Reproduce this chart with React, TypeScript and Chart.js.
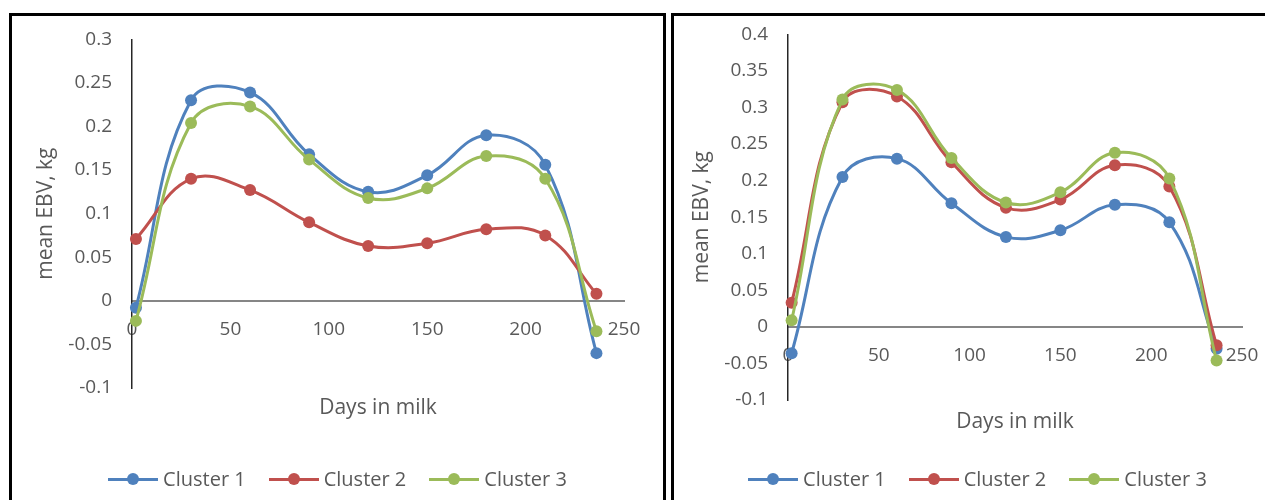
import React, { useEffect, useRef } from 'react';
import { Chart, registerables } from 'chart.js';

Chart.register(...registerables);

// ---- data ----
const days = [2, 30, 60, 90, 120, 150, 180, 210, 236];

const seriesNames = ['Cluster 1', 'Cluster 2', 'Cluster 3'];
const seriesColors = ['#4F81BD', '#C0504D', '#9BBB59'];

const leftCluster1 = [-0.008, 0.23, 0.239, 0.168, 0.125, 0.144, 0.19, 0.156, -0.06];
const leftCluster2 = [0.071, 0.14, 0.127, 0.09, 0.063, 0.066, 0.082, 0.075, 0.008];
const leftCluster3 = [-0.023, 0.204, 0.223, 0.162, 0.118, 0.129, 0.166, 0.14, -0.035];

const rightCluster1 = [-0.036, 0.205, 0.23, 0.169, 0.123, 0.132, 0.167, 0.143, -0.03];
const rightCluster2 = [0.033, 0.307, 0.315, 0.225, 0.163, 0.174, 0.221, 0.192, -0.025];
const rightCluster3 = [0.009, 0.311, 0.324, 0.231, 0.17, 0.184, 0.238, 0.203, -0.046];

const xMin = 0;
const xMax = 250;
const xStep = 50;
const yStep = 0.05;
const leftYRange = [-0.1, 0.3];
const rightYRange = [-0.1, 0.4];

const xTitle = 'Days in milk';
const yTitle = 'mean EBV, kg';

const FONT = "'Open Sans', 'DejaVu Sans', sans-serif";
const TEXT = '#595959';

type PanelProps = {
  series: number[][];
  yRange: number[];
  padding: { left: number; right: number; top: number; bottom: number };
  xTitleHeight: number;
  width: number;
  height: number;
};

function ChartPanel({ series, yRange, padding, xTitleHeight, width, height }: PanelProps) {
  const ref = useRef<HTMLCanvasElement | null>(null);

  useEffect(() => {
    if (!ref.current) return;
    const chart = new Chart(ref.current, {
      type: 'line',
      data: {
        datasets: series.map((vals, i) => ({
          label: seriesNames[i],
          data: days.map((d, j) => ({ x: d, y: vals[j] })),
          borderColor: seriesColors[i],
          backgroundColor: seriesColors[i],
          pointBackgroundColor: seriesColors[i],
          pointBorderColor: seriesColors[i],
          pointRadius: 6,
          pointBorderWidth: 0,
          borderWidth: 3,
          tension: 0.4,
          fill: false,
          clip: false,
          order: series.length - 1 - i,
          borderCapStyle: 'round',
          borderJoinStyle: 'round',
        })),
      },
      options: {
        responsive: false,
        animation: false,
        events: [],
        layout: { padding },
        plugins: {
          legend: { display: false },
          tooltip: { enabled: false },
          title: { display: false },
        },
        scales: {
          x: {
            type: 'linear',
            position: { y: 0 },
            min: xMin,
            max: xMax,
            ticks: {
              stepSize: xStep,
              padding: 17,
              color: TEXT,
              font: { size: 19, family: FONT },
              maxRotation: 0,
              autoSkip: false,
            },
            grid: { color: 'transparent', drawTicks: false },
            border: { display: true, color: '#868686', width: 2 },
            title: {
              display: true,
              text: xTitle,
              color: TEXT,
              font: { size: 21, family: FONT },
              padding: { top: 4, bottom: 4 },
            },
            afterFit: (s: any) => {
              s.height = xTitleHeight;
              s.paddingLeft = 0;
              s.paddingRight = 0;
            },
          },
          y: {
            type: 'linear',
            position: 'left',
            min: yRange[0],
            max: yRange[1],
            ticks: {
              stepSize: yStep,
              padding: 20,
              color: TEXT,
              font: { size: 19, family: FONT },
              callback: (v: any) => String(Math.round(Number(v) * 100) / 100),
            },
            grid: { color: 'transparent', drawTicks: false },
            border: { display: true, color: '#262626', width: 1.5 },
            title: {
              display: true,
              text: yTitle,
              color: TEXT,
              font: { size: 21, family: FONT },
              padding: { top: 4, bottom: 4 },
            },
            afterFit: (s: any) => {
              s.width = 102.6;
              s.paddingTop = 0;
              s.paddingBottom = 0;
            },
          },
        },
      } as any,
    });
    return () => chart.destroy();
  }, []);

  return <canvas ref={ref} width={width} height={height} style={{ display: 'block' }} />;
}

function Legend() {
  return (
    <div
      style={{
        position: 'absolute',
        left: 0,
        right: 0,
        top: 451,
        height: 24,
        display: 'flex',
        justifyContent: 'center',
        alignItems: 'center',
        gap: 23,
        fontFamily: FONT,
        fontSize: 20,
        color: TEXT,
      }}
    >
      {seriesNames.map((name, i) => (
        <div key={name} style={{ display: 'flex', alignItems: 'center' }}>
          <div style={{ position: 'relative', width: 50, height: 24 }}>
            <div
              style={{
                position: 'absolute',
                left: 0,
                top: 10.5,
                width: 50,
                height: 3,
                background: seriesColors[i],
              }}
            />
            <div
              style={{
                position: 'absolute',
                left: 19,
                top: 6,
                width: 12,
                height: 12,
                borderRadius: '50%',
                background: seriesColors[i],
              }}
            />
          </div>
          <span style={{ marginLeft: 5, lineHeight: '24px', whiteSpace: 'nowrap' }}>{name}</span>
        </div>
      ))}
    </div>
  );
}

export default function App() {
  return (
    <div
      style={{
        position: 'fixed',
        left: 0,
        top: 0,
        width: 1265,
        height: 500,
        overflow: 'hidden',
        background: '#fff',
      }}
    >
      <div
        style={{
          position: 'absolute',
          left: 9,
          top: 13,
          width: 651,
          height: 500,
          border: '3px solid #000',
        }}
      >
        <ChartPanel
          series={[leftCluster1, leftCluster2, leftCluster3]}
          yRange={leftYRange}
          padding={{ left: 17.4, right: 39, top: 23.3, bottom: 112 }}
          xTitleHeight={123.6}
          width={651}
          height={484}
        />
        <Legend />
      </div>
      <div
        style={{
          position: 'absolute',
          left: 671,
          top: 13,
          width: 607,
          height: 500,
          border: '3px solid #000',
        }}
      >
        <ChartPanel
          series={[rightCluster1, rightCluster2, rightCluster3]}
          yRange={rightYRange}
          padding={{ left: 11.4, right: 39, top: 18.3, bottom: 100 }}
          xTitleHeight={111.6}
          width={607}
          height={484}
        />
        <Legend />
      </div>
    </div>
  );
}
